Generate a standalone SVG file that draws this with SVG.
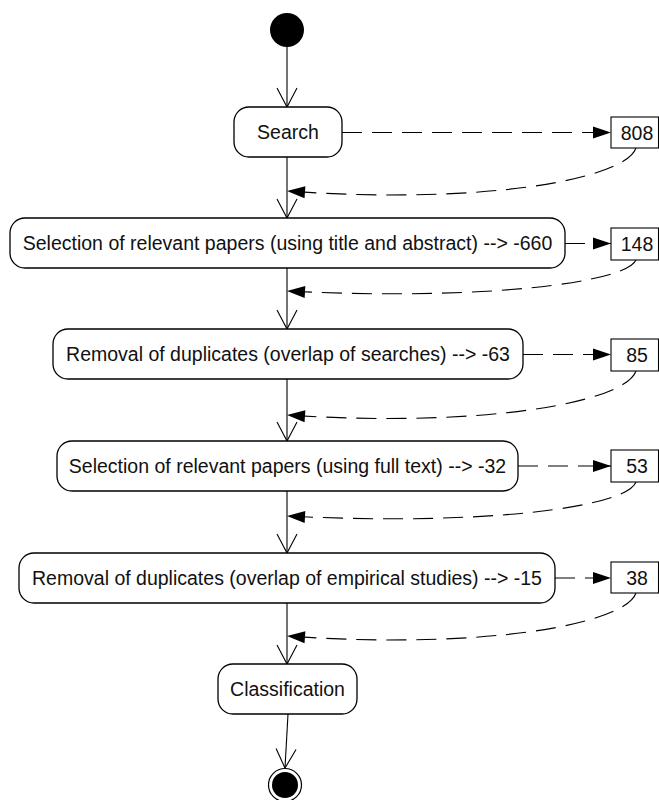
<svg xmlns="http://www.w3.org/2000/svg" width="659" height="800" viewBox="0 0 659 800">
<defs>
<style>
.act{fill:#fff;stroke:#000;stroke-width:1.3}
.box{fill:#fff;stroke:#000;stroke-width:1.1}
.lbl{font-family:"Liberation Sans",Arial,sans-serif;font-size:19.5px;fill:#111;text-anchor:middle}
.flow{fill:none;stroke:#000;stroke-width:1.1;marker-end:url(#open)}
.obj{fill:none;stroke:#000;stroke-width:1.1;stroke-dasharray:20 10;marker-end:url(#filled)}
</style>
<marker id="open" markerUnits="userSpaceOnUse" markerWidth="22" markerHeight="24" refX="19" refY="10" orient="auto" overflow="visible">
<path d="M0,0 L19,10 L0,20" fill="none" stroke="#000" stroke-width="1.1"/>
</marker>
<marker id="filled" markerUnits="userSpaceOnUse" markerWidth="20" markerHeight="14" refX="18" refY="6" orient="auto" overflow="visible">
<path d="M0,0 L18,6 L0,12 z" fill="#000"/>
</marker>
</defs>
<rect width="659" height="800" fill="#fff"/>

<g id="connectors">
<line class="flow" x1="287" y1="47" x2="287" y2="107"/>
<line class="flow" x1="287" y1="157" x2="287" y2="218"/>
<line class="flow" x1="287" y1="268" x2="287" y2="329"/>
<line class="flow" x1="287" y1="379" x2="287" y2="441"/>
<line class="flow" x1="287" y1="491" x2="287" y2="553"/>
<line class="flow" x1="287" y1="603" x2="287" y2="664"/>
<line class="flow" x1="288" y1="714" x2="285" y2="768"/>

<line class="obj" x1="342" y1="132.5" x2="611" y2="132.5"/>
<line class="obj" x1="565" y1="243.5" x2="611" y2="243.5"/>
<line class="obj" x1="523" y1="354.5" x2="611" y2="354.5"/>
<line class="obj" x1="518" y1="466" x2="611" y2="466"/>
<line class="obj" x1="555" y1="578" x2="611" y2="578"/>

<path class="obj" d="M636,148 C625,180 480,205 287,191"/>
<path class="obj" d="M636,260 C626,283 480,301 287,291"/>
<path class="obj" d="M636,371 C625,403 480,428 287,415"/>
<path class="obj" d="M636,482 C626,508 480,526 287,516"/>
<path class="obj" d="M636,593 C625,625 480,650 287,636"/>
</g>

<g id="start"><circle cx="287" cy="30" r="17" fill="#000"/></g>

<g id="search">
<rect class="act" x="234" y="107" width="108" height="50" rx="15"/>
<text class="lbl" x="288" y="139">Search</text>
</g>
<g id="n808">
<rect class="box" x="611" y="117" width="47.5" height="31"/>
<text class="lbl" x="637" y="139.5">808</text>
</g>

<g id="select1">
<rect class="act" x="10" y="218" width="555" height="50" rx="15"/>
<text class="lbl" x="287.5" y="250">Selection of relevant papers (using title and abstract) --&gt; -660</text>
</g>
<g id="n148">
<rect class="box" x="611" y="228" width="47.5" height="32"/>
<text class="lbl" x="637" y="251">148</text>
</g>

<g id="dup1">
<rect class="act" x="53" y="329" width="470" height="50" rx="15"/>
<text class="lbl" x="288" y="361">Removal of duplicates (overlap of searches) --&gt; -63</text>
</g>
<g id="n85">
<rect class="box" x="611" y="339" width="47.5" height="32"/>
<text class="lbl" x="637" y="362">85</text>
</g>

<g id="select2">
<rect class="act" x="57" y="441" width="461" height="50" rx="15"/>
<text class="lbl" x="287.5" y="473">Selection of relevant papers (using full text) --&gt; -32</text>
</g>
<g id="n53">
<rect class="box" x="611" y="450" width="47.5" height="32"/>
<text class="lbl" x="637" y="473">53</text>
</g>

<g id="dup2">
<rect class="act" x="19" y="553" width="536" height="50" rx="15"/>
<text class="lbl" x="287" y="585">Removal of duplicates (overlap of empirical studies) --&gt; -15</text>
</g>
<g id="n38">
<rect class="box" x="611" y="562" width="47.5" height="31"/>
<text class="lbl" x="637" y="585">38</text>
</g>

<g id="classification">
<rect class="act" x="218" y="664" width="139" height="50" rx="15"/>
<text class="lbl" x="287.5" y="696">Classification</text>
</g>

<g id="end">
<circle cx="285" cy="785" r="16.5" fill="#fff" stroke="#000" stroke-width="1.2"/>
<circle cx="285" cy="785" r="13" fill="#000"/>
</g>
</svg>
